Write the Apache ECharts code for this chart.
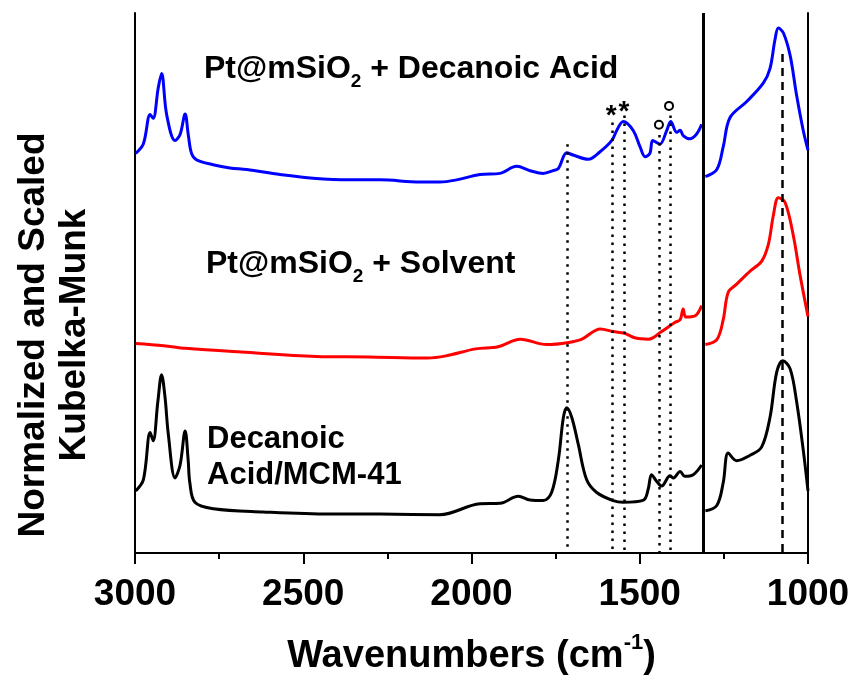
<!DOCTYPE html>
<html>
<head>
<meta charset="utf-8">
<script src="https://cdn.jsdelivr.net/npm/echarts@6/dist/echarts.min.js"></script>
<style>
html, body { margin: 0; padding: 0; background: #fff; }
#chart { width: 856px; height: 681px; }
</style>
</head>
<body>
<div id="chart"></div>
<script>
// [wavenumber cm-1, offset Kubelka-Munk value]; left panel 3000-1310, right panel 1310-1000 (scaled separately)
var acidLeft = [[2998,7.40],[2975,7.58],[2955,8.12],[2946,8.05],[2931,8.61],[2921,8.88],[2906,8.12],[2881,7.64],[2866,7.75],[2851,8.13],[2842,7.76],[2832,7.40],[2817,7.28],[2768,7.19],[2718,7.13],[2668,7.10],[2569,7.01],[2471,6.94],[2361,6.91],[2272,6.91],[2153,6.87],[2094,6.87],[2044,6.91],[1975,7.01],[1915,7.03],[1866,7.16],[1826,7.08],[1787,7.03],[1758,7.08],[1742,7.12],[1717,7.41],[1698,7.37],[1653,7.29],[1618,7.43],[1583,7.64],[1568,7.83],[1549,7.99],[1519,7.82],[1499,7.52],[1484,7.34],[1470,7.40],[1462,7.64],[1452,7.61],[1440,7.57],[1420,7.82],[1408,7.99],[1390,7.79],[1380,7.83],[1371,7.73],[1351,7.67],[1331,7.76],[1316,7.94]];
var acidRight = [[1305,6.97],[1271,7.10],[1252,7.52],[1232,8.06],[1182,8.36],[1133,8.70],[1113,8.97],[1098,9.51],[1088,9.72],[1073,9.63],[1053,9.21],[1034,8.48],[1014,7.82],[1000,7.46]];

var solventLeft = [[2998,3.88],[2915,3.84],[2849,3.79],[2684,3.72],[2462,3.64],[2308,3.63],[2131,3.61],[2076,3.65],[1988,3.78],[1921,3.82],[1855,3.96],[1777,3.86],[1711,3.90],[1672,3.96],[1617,4.15],[1579,4.10],[1546,4.07],[1512,3.98],[1474,3.96],[1435,4.10],[1396,4.27],[1380,4.32],[1371,4.52],[1363,4.37],[1336,4.39],[1316,4.58]];
var solventRight = [[1305,3.86],[1271,3.95],[1252,4.32],[1237,4.83],[1212,4.98],[1172,5.22],[1138,5.40],[1118,5.71],[1103,6.25],[1088,6.58],[1068,6.49],[1044,5.89],[1024,5.16],[1000,4.38]];

var mcmLeft = [[2998,1.15],[2975,1.36],[2955,2.23],[2946,2.08],[2932,2.81],[2921,3.30],[2911,2.90],[2901,2.20],[2881,1.39],[2866,1.63],[2851,2.26],[2842,1.72],[2837,1.30],[2822,0.94],[2767,0.82],[2619,0.76],[2420,0.72],[2272,0.72],[2094,0.71],[1975,0.91],[1915,0.92],[1861,1.05],[1826,0.98],[1787,0.97],[1762,1.12],[1742,1.72],[1727,2.51],[1717,2.69],[1702,2.51],[1683,2.02],[1658,1.36],[1628,1.12],[1579,0.97],[1549,0.94],[1489,0.98],[1475,1.18],[1465,1.45],[1450,1.33],[1435,1.24],[1410,1.43],[1400,1.39],[1380,1.51],[1366,1.42],[1341,1.45],[1316,1.63]];
var mcmRight = [[1305,0.78],[1271,0.88],[1252,1.30],[1237,1.85],[1212,1.71],[1172,1.81],[1138,1.96],[1113,2.51],[1093,3.35],[1075,3.56],[1053,3.41],[1034,2.81],[1014,1.90],[1000,1.15]];

// guide lines
var dottedWn = [1715, 1582, 1547, 1442, 1408];
var dottedTop = [7.57, 7.97, 8.10, 7.74, 8.10];
var dashedWn = 1076, dashedTop = 9.24;
var breakWn = 1310;

// peak markers
var starPts = [[1585, 8.21], [1547, 8.30]];
var ringPts = [[1443, 7.93], [1413, 8.28]];

var FONT = 'Liberation Sans';

var chart = echarts.init(document.getElementById('chart'));

function curve(data, color) {
    return {
        type: 'line', data: data, smooth: 0.35, symbol: 'none',
        lineStyle: {color: color, width: 3}, silent: true
    };
}

var guideLines = dottedWn.map(function (w, i) {
    return [{coord: [w, dottedTop[i]], lineStyle: {type: [2.5, 5.5], width: 2.5, color: '#000'}}, {coord: [w, 0]}];
});
guideLines.push([{coord: [dashedWn, dashedTop], lineStyle: {type: [8, 6], width: 2.5, color: '#000'}}, {coord: [dashedWn, 0]}]);
guideLines.push([{coord: [breakWn, 10], lineStyle: {type: 'solid', width: 3, color: '#000'}}, {coord: [breakWn, 0]}]);

var mcm = curve(mcmLeft, '#000');
mcm.markLine = {silent: true, symbol: ['none', 'none'], label: {show: false}, data: guideLines};

var option = {
    animation: false,
    grid: {left: 135, right: 48, top: 13, bottom: 116},
    xAxis: [{
        type: 'value', min: 1000, max: 3000, interval: 500, inverse: true,
        name: '{a|Wavenumbers (cm}{s|-1}{a|)}',
        nameLocation: 'middle', nameGap: 79,
        nameTextStyle: {
            rich: {
                a: {fontFamily: FONT, fontWeight: 'bold', fontSize: 38, color: '#000', lineHeight: 44, verticalAlign: 'bottom'},
                s: {fontFamily: FONT, fontWeight: 'bold', fontSize: 22, color: '#000', lineHeight: 44, verticalAlign: 'top'}
            }
        },
        axisLine: {lineStyle: {color: '#000', width: 2}},
        axisTick: {length: 11, lineStyle: {color: '#000', width: 2}},
        minorTick: {show: true, splitNumber: 2, length: 6, lineStyle: {color: '#000', width: 2}},
        axisLabel: {fontFamily: FONT, fontWeight: 'bold', fontSize: 37, color: '#000', margin: 23,
            formatter: function (v) { return String(v); }},
        splitLine: {show: false}
    }, {
        type: 'value', min: 1000, max: 3000, inverse: true, position: 'top',
        axisLine: {lineStyle: {color: '#000', width: 2}},
        axisTick: {show: false}, axisLabel: {show: false}, splitLine: {show: false}
    }],
    yAxis: [{
        type: 'value', min: 0, max: 10,
        axisLine: {show: true, lineStyle: {color: '#000', width: 2}},
        axisTick: {show: false}, axisLabel: {show: false}, splitLine: {show: false}
    }, {
        type: 'value', min: 0, max: 10, position: 'right',
        axisLine: {show: true, lineStyle: {color: '#000', width: 2}},
        axisTick: {show: false}, axisLabel: {show: false}, splitLine: {show: false}
    }],
    series: [
        curve(acidLeft, '#0000ff'),
        curve(acidRight, '#0000ff'),
        curve(solventLeft, '#ff0000'),
        curve(solventRight, '#ff0000'),
        mcm,
        curve(mcmRight, '#000'),
        {
            type: 'scatter', data: starPts, symbolSize: 1, silent: true,
            itemStyle: {color: 'rgba(0,0,0,0)', opacity: 1},
            label: {show: true, position: 'inside', offset: [0, 7], formatter: '*',
                fontFamily: FONT, fontWeight: 'bold', fontSize: 28, color: '#000', opacity: 1}
        },
        {
            type: 'scatter', data: ringPts, symbolSize: 8, silent: true,
            itemStyle: {color: '#fff', borderColor: '#000', borderWidth: 2, opacity: 1}
        }
    ],
    graphic: [
        {
            type: 'text', left: 204, top: 53,
            style: {
                text: '{a|Pt@mSiO}{s|2}{a| + Decanoic Acid}',
                rich: {
                    a: {fontFamily: FONT, fontWeight: 'bold', fontSize: 32, fill: '#000', lineHeight: 36, verticalAlign: 'top'},
                    s: {fontFamily: FONT, fontWeight: 'bold', fontSize: 19, fill: '#000', lineHeight: 19, padding: [19, 0, 0, 0], verticalAlign: 'top'}
                }
            }
        },
        {
            type: 'text', left: 206, top: 248,
            style: {
                text: '{a|Pt@mSiO}{s|2}{a| + Solvent}',
                rich: {
                    a: {fontFamily: FONT, fontWeight: 'bold', fontSize: 32, fill: '#000', lineHeight: 36, verticalAlign: 'top'},
                    s: {fontFamily: FONT, fontWeight: 'bold', fontSize: 19, fill: '#000', lineHeight: 19, padding: [19, 0, 0, 0], verticalAlign: 'top'}
                }
            }
        },
        {
            type: 'text', left: 207, top: 421,
            style: {
                text: 'Decanoic\nAcid/MCM-41',
                font: 'bold 31px ' + FONT, lineHeight: 36, fill: '#000'
            }
        },
        {
            type: 'text', x: 54, y: 335, rotation: Math.PI / 2,
            style: {
                text: 'Normalized and Scaled\nKubelka-Munk',
                font: 'bold 37px ' + FONT, lineHeight: 41, fill: '#000',
                align: 'center', verticalAlign: 'middle'
            }
        }
    ]
};

chart.setOption(option);
</script>
</body>
</html>
